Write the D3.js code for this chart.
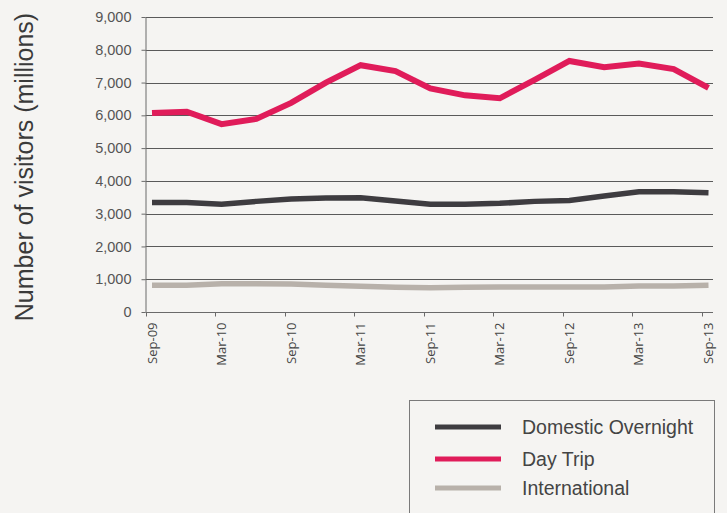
<!DOCTYPE html>
<html><head><meta charset="utf-8">
<script src="https://cdn.jsdelivr.net/npm/d3@7/dist/d3.min.js"></script>
<style>
html,body{margin:0;padding:0;background:#f5f4f2;}
svg{display:block;}
</style></head>
<body>
<script>
const quarters = ["Sep-09","Dec-09","Mar-10","Jun-10","Sep-10","Dec-10","Mar-11","Jun-11","Sep-11","Dec-11","Mar-12","Jun-12","Sep-12","Dec-12","Mar-13","Jun-13","Sep-13"];
const tickLabels = ["Sep-09","Mar-10","Sep-10","Mar-11","Sep-11","Mar-12","Sep-12","Mar-13","Sep-13"];
const domesticOvernight = [3340,3340,3285,3375,3445,3475,3485,3385,3285,3285,3315,3375,3405,3540,3670,3670,3640];
const dayTrip = [6070,6110,5730,5890,6380,7000,7530,7350,6820,6610,6520,7080,7660,7470,7580,7410,6840];
const international = [813,815,860,862,852,813,783,752,742,752,762,762,762,762,793,793,813];
const yTicks = [0,1000,2000,3000,4000,5000,6000,7000,8000,9000];
const seriesNames = ["Domestic Overnight","Day Trip","International"];
const seriesColors = ["#3e3c40","#e01c5a","#b8b1aa"];

const W = 727, H = 513;
const svg = d3.select("body").append("svg").attr("width",W).attr("height",H);
svg.append("rect").attr("width",W).attr("height",H).attr("fill","#f5f4f2");

const x = d3.scalePoint().domain(quarters).range([152,708.5]);
const y = d3.scaleLinear().domain([0,9000]).range([312,17]);
const axisLeft = 145.5, axisRight = 713;
const tickOffset = -6.5;

// gridlines
svg.append("g").selectAll("line").data(yTicks.filter(d=>d>0)).join("line")
  .attr("x1",axisLeft).attr("x2",axisRight)
  .attr("y1",d=>Math.round(y(d))+0.5).attr("y2",d=>Math.round(y(d))+0.5)
  .attr("stroke","#5a5a5a").attr("stroke-width",1);

// y axis
const ya = svg.append("g").attr("transform",`translate(${axisLeft},0)`)
  .call(d3.axisLeft(y).tickValues(yTicks).tickSize(4).tickSizeOuter(0).tickFormat(d3.format(",")));
ya.select(".domain").attr("stroke","#6a6a6a");
ya.selectAll(".tick line").attr("stroke","#6a6a6a");
ya.selectAll(".tick text").attr("x",-14).attr("font-family","Liberation Sans, Arial, sans-serif")
  .attr("font-size",14.5).attr("fill","#555");

// x axis
const xa = svg.append("g").attr("transform",`translate(0,${Math.round(y(0))+0.5})`);
xa.append("line").attr("x1",axisLeft).attr("x2",axisRight).attr("stroke","#6a6a6a");
xa.selectAll("line.tk").data(tickLabels).join("line").attr("class","tk")
  .attr("x1",d=>Math.round(x(d)+tickOffset)+0.5).attr("x2",d=>Math.round(x(d)+tickOffset)+0.5)
  .attr("y1",0).attr("y2",4).attr("stroke","#6a6a6a");
xa.selectAll("text").data(tickLabels).join("text")
  .attr("transform",d=>`translate(${x(d)+4.5},10) rotate(-90)`)
  .attr("text-anchor","end")
  .attr("font-family","Open Sans, sans-serif").attr("font-size",13).attr("fill","#444")
  .text(d=>d);

// lines
const line = d3.line().x((d,i)=>x(quarters[i])).y(d=>y(d));
const allSeries = [domesticOvernight, dayTrip, international];
const widths = [5.5,6,5.5];
[2,0,1].forEach(k=>{
  svg.append("path").datum(allSeries[k]).attr("d",line)
    .attr("fill","none").attr("stroke",seriesColors[k]).attr("stroke-width",widths[k])
    .attr("stroke-linejoin","miter");
});

// y label
svg.append("text").attr("transform","translate(33,167) rotate(-90)")
  .attr("text-anchor","middle").attr("font-family","Liberation Sans, Arial, sans-serif")
  .attr("font-size",25).attr("fill","#3a3a3a").text("Number of visitors (millions)");

// legend
svg.append("rect").attr("x",409.5).attr("y",400.5).attr("width",305).attr("height",130)
  .attr("fill","none").attr("stroke","#7a7a7a").attr("stroke-width",1);
const lg = svg.append("g").selectAll("g").data(seriesNames).join("g")
  .attr("transform",(d,i)=>`translate(0,${[427,459,488][i]})`);
lg.append("line").attr("x1",435).attr("x2",501).attr("stroke",(d,i)=>seriesColors[i]).attr("stroke-width",5);
lg.append("text").attr("x",522).attr("y",7).attr("font-family","Liberation Sans, Arial, sans-serif")
  .attr("font-size",19.5).attr("fill","#444").text(d=>d);
</script>
</body></html>
